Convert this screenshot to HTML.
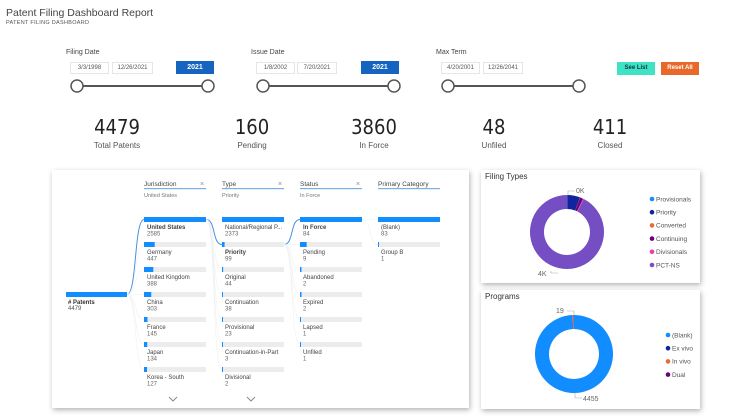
<!DOCTYPE html>
<html><head><meta charset="utf-8">
<style>
body{margin:0;width:750px;height:417px;background:#fff;font-family:"Liberation Sans",sans-serif;position:relative;overflow:hidden;color:#333}
.abs{position:absolute}
.lbl{font-size:7px;color:#444}
.box{position:absolute;height:12px;border:1px solid #e6e6e6;font-size:6px;color:#555;line-height:11px;text-align:center;box-sizing:border-box}
.yr{position:absolute;height:13px;width:38px;background:#1565c0;color:#fff;font-size:7px;font-weight:bold;line-height:13px;text-align:center}
.btn{position:absolute;height:13px;width:38px;font-size:6px;font-weight:bold;line-height:13px;text-align:center;display:flex;align-items:center;justify-content:center}
.kn{position:absolute;font-size:20px;color:#222;text-align:center;width:100px;font-family:"DejaVu Sans Condensed","Liberation Sans",sans-serif;font-weight:normal}
.kl{position:absolute;font-size:8px;color:#555;text-align:center;width:100px}
.panel{position:absolute;background:#fff;box-shadow:1px 2px 5px rgba(0,0,0,.3)}
</style></head><body>
<div class="abs" style="left:6px;top:7px;font-size:10.5px;color:#444">Patent Filing Dashboard Report</div>
<div class="abs" style="left:6px;top:20px;font-size:5.5px;color:#555;letter-spacing:.3px">PATENT FILING DASHBOARD</div>

<div class="abs lbl" style="left:66px;top:49px">Filing Date</div>
<div class="box" style="left:70px;top:62px;width:39px">3/3/1998</div>
<div class="box" style="left:112px;top:62px;width:41px">12/26/2021</div>
<div class="yr" style="left:176px;top:61px">2021</div>
<div class="abs lbl" style="left:251px;top:49px">Issue Date</div>
<div class="box" style="left:256px;top:62px;width:39px">1/8/2002</div>
<div class="box" style="left:297px;top:62px;width:40px">7/20/2021</div>
<div class="yr" style="left:361px;top:61px">2021</div>
<div class="abs lbl" style="left:436px;top:49px">Max Term</div>
<div class="box" style="left:441px;top:62px;width:39px">4/20/2001</div>
<div class="box" style="left:483px;top:62px;width:40px">12/26/2041</div>
<div class="btn" style="left:617px;top:62px;background:#3de3c2;color:#134">See List</div>
<div class="btn" style="left:661px;top:62px;background:#e8692a;color:#fff">Reset All</div>

<svg class="abs" style="left:0;top:0" width="750" height="100">
<g stroke="#555" fill="#fff" stroke-width="1.5">
<line x1="77" y1="86" x2="208" y2="86" stroke-width="2"/>
<circle cx="77" cy="86" r="6"/>
<circle cx="208" cy="86" r="6"/>
<line x1="263" y1="86" x2="394" y2="86" stroke-width="2"/>
<circle cx="263" cy="86" r="6"/>
<circle cx="394" cy="86" r="6"/>
<line x1="448" y1="86" x2="579" y2="86" stroke-width="2"/>
<circle cx="448" cy="86" r="6"/>
<circle cx="579" cy="86" r="6"/>
</g></svg>

<div class="kn" style="left:67px;top:115px">4479</div>
<div class="kl" style="left:67px;top:141px">Total Patents</div>
<div class="kn" style="left:202px;top:115px">160</div>
<div class="kl" style="left:202px;top:141px">Pending</div>
<div class="kn" style="left:324px;top:115px">3860</div>
<div class="kl" style="left:324px;top:141px">In Force</div>
<div class="kn" style="left:444px;top:115px">48</div>
<div class="kl" style="left:444px;top:141px">Unfiled</div>
<div class="kn" style="left:560px;top:115px">411</div>
<div class="kl" style="left:560px;top:141px">Closed</div>

<div class="panel" style="left:52px;top:170px;width:417px;height:238px"></div>
<svg class="abs" id="tree" style="left:0;top:0" width="470" height="417"></svg>

<div class="panel" style="left:481px;top:170px;width:219px;height:113px"></div>
<div class="panel" style="left:481px;top:290px;width:219px;height:119px"></div>
<svg class="abs" id="donuts" style="left:0;top:0" width="750" height="417"></svg>

<script>
const NS="http://www.w3.org/2000/svg";
function mk(p,tag,a,txt){const e=document.createElementNS(NS,tag);for(const k in a)e.setAttribute(k,a[k]);if(txt!==undefined)e.textContent=txt;p.appendChild(e);return e;}

// Decomposition tree data
const rootLabel="# Patents";
const rootValue=4479;
const headers=["Jurisdiction","Type","Status","Primary Category"];
const selections=["United States","Priority","In Force",""];
const jurisNames=["United States","Germany","United Kingdom","China","France","Japan","Korea - South"];
const jurisValues=[2585,447,388,303,145,134,127];
const typeNames=["National/Regional P...","Priority","Original","Continuation","Provisional","Continuation-in-Part","Divisional"];
const typeValues=[2373,99,44,38,23,3,2];
const statusNames=["In Force","Pending","Abandoned","Expired","Lapsed","Unfiled"];
const statusValues=[84,9,2,2,1,1];
const catNames=["(Blank)","Group B"];
const catValues=[83,1];

const tree=document.getElementById("tree");
const colX=[144,222,300,378], colW=62, rowY0=217, rowStep=25;
const cols=[[jurisNames,jurisValues],[typeNames,typeValues],[statusNames,statusValues],[catNames,catValues]];
const selIdx=[0,1,0,-1];
headers.forEach((h,i)=>{
  const g=mk(tree,"g",{});
  
  
  mk(g,"text",{x:colX[i],y:186,"font-size":6.5,fill:"#444"},h);
  if(i<3)mk(g,"text",{x:colX[i]+colW-6,y:186,"font-size":7,fill:"#888"},"×");
  mk(g,"rect",{x:colX[i],y:188,width:colW,height:1.2,fill:"#7aaee8"});
  if(selections[i])mk(g,"text",{x:colX[i],y:197,"font-size":5.5,fill:"#777"},selections[i]);
});
const rootY=rowY0+3*rowStep;
mk(tree,"rect",{x:66,y:rootY,width:61,height:5,fill:"#118dff"});
mk(tree,"text",{x:68,y:rootY+12,"font-size":6,"font-weight":"bold",fill:"#333"},rootLabel);
mk(tree,"text",{x:68,y:rootY+18,"font-size":6,fill:"#555"},rootValue);
let prevX=127, prevY=rootY+2.5;
cols.forEach((c,ci)=>{
  const [names]=c;
  names.forEach((n,ri)=>{
    const y=rowY0+ri*rowStep+2.5;
    const sel=ri===selIdx[ci];
    const p=mk(tree,"path",{d:`M${prevX},${prevY} C${prevX+10},${prevY} ${colX[ci]-10},${y} ${colX[ci]},${y}`,fill:"none",stroke:sel?"#4a90e2":"#f0f0f0","stroke-width":sel?1:0.6});
    
    
  });
  const s=selIdx[ci]>=0?selIdx[ci]:0;
  prevX=colX[ci]+colW; prevY=rowY0+s*rowStep+2.5;
});
cols.forEach((c,ci)=>{
  const [names,vals]=c; const mx=Math.max(...vals);
  names.forEach((n,ri)=>{
    const y=rowY0+ri*rowStep;
    const g=mk(tree,"g",{});
    
    
    mk(g,"rect",{x:colX[ci],y:y,width:colW,height:5,fill:"#ececec"});
    mk(g,"rect",{x:colX[ci],y:y,width:Math.max(1,colW*vals[ri]/mx),height:5,fill:"#118dff"});
    const bold=ri===selIdx[ci];
    mk(g,"text",{x:colX[ci]+3,y:y+12,"font-size":6,fill:"#444","font-weight":bold?"bold":"normal"},n);
    mk(g,"text",{x:colX[ci]+3,y:y+18.5,"font-size":6,fill:"#666"},vals[ri]);
  });
});
[173,251].forEach(x=>{
  const p=mk(tree,"path",{d:`M${x-4},397 L${x},401 L${x+4},397`,fill:"none",stroke:"#888","stroke-width":1});
  
  
});

// Donut data
const ftCategories=["Provisionals","Priority","Converted","Continuing","Divisionals","PCT-NS"];
const ftValues=[8,250,3,60,15,4143];
const ftColors=["#118dff","#12239e","#e66c37","#6b007b","#e044a7","#744ec2"];
const pgCategories=["(Blank)","Ex vivo","In vivo","Dual"];
const pgValues=[4455,0,19,5];
const pgColors=["#118dff","#12239e","#e66c37","#6b007b"];

const dn=document.getElementById("donuts");
function donut(cx,cy,R,r,vals,cols,name){
  const tot=vals.reduce((a,b)=>a+b,0);let a=0;
  vals.forEach((v,i)=>{
    if(v<=0)return;
    const a0=a/tot*2*Math.PI, a1=(a+v)/tot*2*Math.PI; a+=v;
    const e=Math.min(a1,a0+2*Math.PI-1e-4);
    const pt=(rad,an)=>[cx+rad*Math.sin(an),cy-rad*Math.cos(an)];
    const L=(e-a0)>Math.PI?1:0;
    const [x1,y1]=pt(R,a0),[x2,y2]=pt(R,e),[x3,y3]=pt(r,e),[x4,y4]=pt(r,a0);
    const p=mk(dn,"path",{d:`M${x1},${y1}A${R},${R} 0 ${L} 1 ${x2},${y2}L${x3},${y3}A${r},${r} 0 ${L} 0 ${x4},${y4}Z`,fill:cols[i]});
    
    
  });
}
function legend(x,y0,step,cats,cols,name){
  cats.forEach((c,i)=>{
    const g=mk(dn,"g",{});
    
    
    mk(g,"circle",{cx:x,cy:y0+i*step,r:2.3,fill:cols[i]});
    mk(g,"text",{x:x+4,y:y0+i*step+2.3,"font-size":6.5,fill:"#555"},c);
  });
}
mk(dn,"text",{x:485,y:179,"font-size":8,fill:"#333"},"Filing Types");
donut(567,232,37,23,ftValues,ftColors,"filing-types");
legend(652,199,13.2,ftCategories,ftColors,"filing-types");
mk(dn,"path",{d:"M568,195 L568,191 L575,191",fill:"none",stroke:"#aaa","stroke-width":0.6});
mk(dn,"text",{x:576,y:193,"font-size":7,fill:"#666"},"0K");
mk(dn,"path",{d:"M551,271 L551,273 L558,273",fill:"none",stroke:"#aaa","stroke-width":0.6});
mk(dn,"text",{x:538,y:276,"font-size":7,fill:"#666"},"4K");
mk(dn,"text",{x:485,y:299,"font-size":8,fill:"#333"},"Programs");
donut(574,354,39,25,pgValues,pgColors,"programs");
legend(668,335,13.2,pgCategories,pgColors,"programs");
mk(dn,"path",{d:"M574,315 L574,311 L567,311",fill:"none",stroke:"#aaa","stroke-width":0.6});
mk(dn,"text",{x:556,y:313,"font-size":7,fill:"#666"},"19");
mk(dn,"path",{d:"M575,393 L575,398 L582,398",fill:"none",stroke:"#aaa","stroke-width":0.6});
mk(dn,"text",{x:583,y:401,"font-size":7,fill:"#666"},"4455");
</script>
</body></html>
